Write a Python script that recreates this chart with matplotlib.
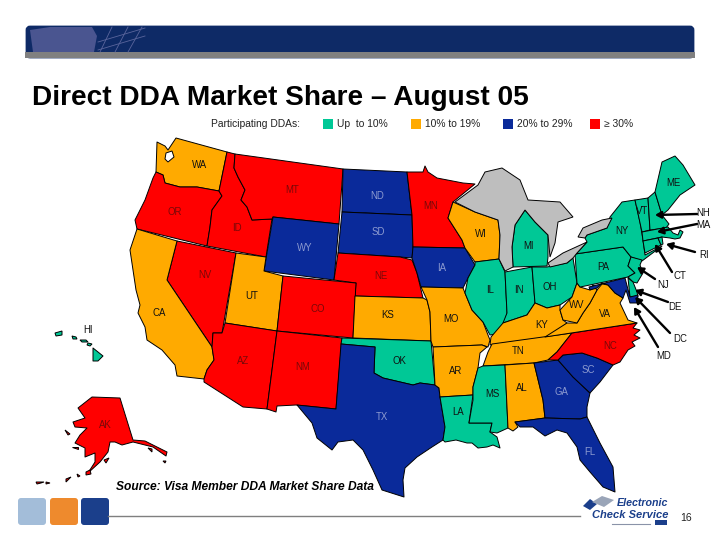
import matplotlib
matplotlib.use("Agg")
import matplotlib.pyplot as plt
from matplotlib.patches import Polygon, Rectangle, FancyBboxPatch

plt.rcParams["font.family"] = ["Liberation Sans", "DejaVu Sans"]

TEAL = "#00C896"
ORANGE = "#FFAA00"
BLUE = "#0A2A9A"
RED = "#FF0000"
GRAY = "#BEBEBE"

title = "Direct DDA Market Share \u2013 August 05"
source = "Source: Visa Member DDA Market Share Data"
legend_labels = ["Up  to 10%", "10% to 19%", "20% to 29%", "\u2265 30%"]
legend_colors = [TEAL, ORANGE, BLUE, RED]
legend_x = [323, 411, 503, 590]

up_to_10 = ["OK", "LA", "MS", "IL", "IN", "OH", "MI", "PA", "NY", "NJ", "CT", "RI", "MA", "VT", "NH", "ME", "DE", "HI"]
from_10_to_19 = ["WA", "CA", "UT", "KS", "MO", "AR", "TN", "KY", "AL", "WI", "WV", "VA"]
from_20_to_29 = ["ND", "SD", "WY", "IA", "TX", "GA", "SC", "FL", "MD"]
over_30 = ["OR", "ID", "MT", "NV", "AZ", "NM", "CO", "NE", "MN", "NC", "AK"]

# state outlines, in pixels
shapes = {
    "WA": [(157,142),(165,146),(168,150),(176,138),(227,152),(219,191),(197,187),(180,187),(165,183),(163,175),(156,172)],
    "OR": [(156,172),(163,175),(165,183),(180,187),(197,187),(219,191),(222,196),(212,210),(210,227),(207,246),(137,229),(135,220),(145,200),(153,178)],
    "ID": [(227,152),(235,154),(234,168),(238,177),(245,190),(241,200),(247,207),(252,220),(272,219),(266,257),(207,246),(210,227),(212,210),(222,196),(219,191)],
    "MT": [(235,154),(343,169),(339,224),(273,217),(272,219),(252,220),(247,207),(241,200),(245,190),(238,177),(234,168)],
    "ND": [(343,169),(407,172),(412,215),(342,212)],
    "SD": [(342,212),(412,215),(413,247),(412,258),(400,257),(338,253)],
    "WY": [(273,217),(339,224),(334,280),(264,271)],
    "NE": [(338,253),(400,257),(412,260),(417,273),(423,298),(355,296),(356,283),(334,280)],
    "NV": [(177,241),(236,253),(222,333),(213,333),(212,347),(167,280)],
    "UT": [(236,253),(266,257),(264,271),(283,276),(277,331),(225,323)],
    "CO": [(283,276),(356,283),(353,338),(277,331)],
    "CA": [(137,229),(177,241),(167,280),(212,347),(214,360),(207,370),(204,379),(177,376),(175,365),(162,350),(147,340),(145,327),(138,313),(140,305),(136,290),(133,270),(130,250)],
    "AZ": [(225,323),(277,331),(267,409),(243,407),(204,382),(204,379),(207,370),(214,360),(212,347),(213,333),(222,333)],
    "NM": [(277,331),(342,338),(336,409),(296,405),(277,406),(276,412),(267,409)],
    "KS": [(355,296),(423,298),(427,300),(430,312),(431,341),(353,338)],
    "OK": [(342,338),(431,341),(435,385),(420,383),(413,385),(383,378),(374,373),(375,347),(341,344)],
    "TX": [(341,344),(375,347),(374,373),(383,378),(413,385),(420,383),(435,385),(439,388),(440,397),(445,427),(443,440),(432,447),(417,457),(405,468),(403,480),(404,497),(382,490),(373,470),(363,450),(353,440),(338,442),(332,450),(317,438),(312,423),(297,405),(336,409)],
    "MN": [(407,172),(423,172),(425,166),(428,172),(437,178),(463,183),(475,184),(453,202),(448,218),(462,240),(465,248),(413,247),(412,215)],
    "IA": [(413,247),(465,248),(475,265),(468,278),(463,288),(421,287),(417,273),(412,258)],
    "MO": [(421,287),(463,288),(465,293),(472,310),(483,322),(488,335),(490,340),(488,347),(482,345),(433,347),(431,341),(430,312),(427,300)],
    "AR": [(433,347),(482,345),(487,347),(480,353),(478,368),(473,387),(473,395),(440,397),(439,388),(435,385)],
    "LA": [(440,397),(473,395),(469,423),(492,423),(490,432),(497,437),(500,448),(493,445),(487,447),(478,448),(472,443),(467,443),(456,440),(445,442),(443,440),(445,427)],
    "WI": [(453,202),(475,212),(498,220),(500,235),(499,259),(475,262),(465,248),(462,240),(448,218)],
    "IL": [(475,262),(499,259),(505,272),(507,313),(502,333),(490,335),(483,322),(472,310),(465,293),(468,278),(475,265)],
    "IN": [(505,272),(532,267),(535,303),(527,315),(503,323),(507,313)],
    "MI": [(513,267),(512,247),(515,225),(525,210),(535,222),(548,235),(548,257),(547,266)],
    "OH": [(532,267),(547,267),(567,263),(573,258),(577,283),(572,297),(560,305),(547,308),(535,303)],
    "KY": [(503,323),(527,315),(535,303),(547,308),(560,305),(560,310),(563,320),(567,323),(552,337),(490,345),(491,337)],
    "TN": [(492,344),(572,333),(557,352),(548,360),(534,363),(483,366),(488,352)],
    "MS": [(483,366),(505,365),(508,428),(497,433),(490,432),(492,423),(469,423),(473,400),(473,387),(478,368)],
    "AL": [(505,365),(534,363),(543,400),(545,418),(515,422),(518,427),(513,431),(508,428)],
    "GA": [(534,363),(558,360),(573,377),(590,393),(587,407),(587,417),(580,419),(545,418),(543,400)],
    "FL": [(515,422),(545,418),(580,419),(587,417),(592,427),(600,443),(613,467),(615,492),(603,487),(590,472),(580,460),(577,447),(567,433),(557,430),(545,436),(533,427),(520,427)],
    "SC": [(558,360),(563,355),(582,353),(597,358),(613,365),(600,382),(590,393),(573,377)],
    "NC": [(548,360),(557,352),(572,333),(637,323),(633,328),(640,330),(634,335),(640,338),(632,342),(635,346),(628,350),(620,362),(613,365),(597,358),(582,353),(563,355),(558,360)],
    "VA": [(602,284),(608,285),(615,293),(623,298),(620,303),(628,320),(637,323),(545,337),(567,323),(577,323),(583,313),(590,303),(597,290)],
    "WV": [(577,283),(580,287),(590,290),(593,285),(597,290),(590,303),(583,313),(577,323),(563,320),(560,310),(572,297)],
    "PA": [(575,254),(623,247),(631,257),(628,266),(635,273),(628,277),(585,286),(580,287),(577,283)],
    "NY": [(587,242),(577,253),(575,254),(623,247),(631,257),(642,261),(662,246),(645,255),(643,240),(640,222),(635,200),(622,202),(610,217),(607,228),(587,235),(585,238)],
    "NJ": [(631,257),(642,260),(640,265),(643,273),(637,283),(633,282),(628,277),(635,273),(628,266)],
    "DE": [(628,278),(633,282),(637,292),(638,297),(630,297)],
    "MD": [(589,287),(625,278),(630,297),(638,295),(637,303),(630,303),(626,290),(623,298),(615,293),(608,285),(602,283),(597,288),(590,290)],
    "VT": [(635,200),(648,198),(650,230),(642,232)],
    "NH": [(648,198),(655,192),(662,215),(669,224),(666,228),(650,230)],
    "ME": [(655,192),(662,162),(675,156),(683,165),(695,185),(680,195),(668,210),(662,215)],
    "MA": [(642,232),(668,227),(673,233),(678,235),(680,230),(683,232),(680,238),(675,239),(670,238),(662,237),(643,241)],
    "CT": [(643,241),(658,238),(661,245),(645,253)],
    "RI": [(658,238),(662,237),(663,244),(661,245)],
    "AK": [(78,408),(92,397),(120,398),(133,440),(145,441),(167,452),(166,456),(153,447),(145,445),(133,442),(122,445),(115,442),(110,442),(108,452),(100,462),(88,473),(95,462),(95,453),(85,457),(85,448),(75,443),(80,435),(87,428),(75,427),(73,422),(85,418)],
    "HI": [(93,348),(103,356),(98,361),(93,361)],
}

# small bits drawn after the states: lakes and upper Michigan, islands
lakes = [
    [(455,202),(478,185),(485,172),(502,168),(520,180),(528,200),(560,202),(573,217),(558,222),(555,243),(550,257),(548,235),(535,222),(525,210),(515,225),(512,247),(513,267),(505,271),(499,259),(500,235),(498,220),(475,212)],
    [(548,263),(563,253),(587,242),(577,253),(573,258),(567,263),(550,267)],
    [(578,237),(583,228),(602,220),(612,218),(607,228),(587,235),(585,238)],
]
sound = [(166,153),(172,151),(174,157),(168,162),(165,159)]
islands_hi = [
    [(55,333),(62,331),(62,335),(56,336)],
    [(72,336),(76,337),(77,339),(73,339)],
    [(80,340),(86,340),(88,342),(82,342)],
    [(88,343),(92,344),(90,346),(87,345)],
]
islands_ak = [
    [(65,430),(70,434),(68,435)],
    [(72,447),(78,447),(78,449)],
    [(104,460),(109,458),(106,463)],
    [(148,448),(152,449),(152,452)],
    [(163,461),(166,461),(165,463)],
    [(86,472),(90,470),(91,474),(86,475)],
    [(77,474),(80,476),(78,477)],
    [(66,479),(71,477),(66,482)],
    [(36,482),(44,482),(41,483),(37,484)],
    [(46,482),(50,483),(46,484)],
]

label_names = ["WA","MT","ND","OR","ID","MN","SD","WY","WI","MI","NY","VT","ME","NV","NE","IA","IL","IN","OH","PA","UT","CO","KS","MO","KY","WV","VA","CA","AZ","NM","OK","AR","TN","NC","SC","MS","AL","GA","LA","TX","FL","AK","HI"]
label_x = [200,292,377,175,237,431,378,305,481,528,622,642,673,205,381,442,490,519,550,603,252,318,388,451,542,577,605,159,243,303,399,456,518,610,588,492,522,561,458,382,590,105,88]
label_y = [165,190,196,212,228,206,232,248,234,246,231,211,183,275,276,268,290,290,287,267,296,309,315,319,325,305,314,313,361,367,361,371,351,346,370,394,388,392,412,417,452,425,330]

# small states get an arrow from a label beside the map
arrow_names = ["NH","MA","RI","CT","NJ","DE","DC","MD"]
arrow_text_x = [703,703,704,680,663,675,680,664]
arrow_text_y = [213,225,255,276,285,307,339,356]
arrow_from = [(697,214),(697,224),(695,252),(672,272),(655,279),(668,302),(670,333),(658,347)]
arrow_to = [(655,215),(657,232),(666,244),(655,244),(637,267),(635,290),(635,297),(634,307)]

color_of = {}
for names, color in [(up_to_10, TEAL), (from_10_to_19, ORANGE), (from_20_to_29, BLUE), (over_30, RED)]:
    for name in names:
        color_of[name] = color

fig = plt.figure(figsize=(7.2, 5.4), dpi=100)
ax = fig.add_axes([0, 0, 1, 1])
ax.set_xlim(0, 720)
ax.set_ylim(540, 0)
ax.axis("off")

# header band with the faint globe at the left
ax.add_patch(FancyBboxPatch((27, 27), 666, 30, boxstyle="round,pad=0,rounding_size=3", fc="#0E2A66", ec="#0E2A66", lw=2))
ax.add_patch(Polygon([(30,30),(50,27),(92,27),(97,36),(94,52),(33,52)], fc="#4A5590", ec="none"))
for x0, x1 in [(100, 112), (115, 128), (128, 142)]:
    ax.plot([x0, x1], [52, 27], color="#5A659C", lw=0.6)
for y0, y1 in [(50, 36), (42, 28)]:
    ax.plot([98, 145], [y0, y1], color="#5A659C", lw=0.6)
ax.add_patch(Rectangle((25, 52), 670, 6, fc="#808080", ec="none"))

ax.text(31.5, 105, title, fontsize=20.15, fontweight="bold", color="black", ha="left", va="baseline")

# legend row
ax.text(211, 124, "Participating DDAs:", fontsize=7.4, ha="left", va="center", color="#222222")
for x, label, color in zip(legend_x, legend_labels, legend_colors):
    ax.add_patch(Rectangle((x, 119), 10, 10, fc=color, ec="none"))
    ax.text(x + 14, 124, label, fontsize=7.4, ha="left", va="center", color="#222222")

# map
for name, points in shapes.items():
    ax.add_patch(Polygon(points, closed=True, fc=color_of[name], ec="black", lw=0.7, joinstyle="round"))
ax.add_patch(Polygon(sound, closed=True, fc="white", ec="black", lw=0.7))
for points in lakes:
    ax.add_patch(Polygon(points, closed=True, fc=GRAY, ec="black", lw=0.7))
for points in islands_hi:
    ax.add_patch(Polygon(points, closed=True, fc=TEAL, ec="black", lw=0.7))
for points in islands_ak:
    ax.add_patch(Polygon(points, closed=True, fc=RED, ec="black", lw=0.7))

for name, x, y in zip(label_names, label_x, label_y):
    fill = color_of.get(name)
    if fill == BLUE:
        tc = "#8C9AD0"
    elif fill == RED:
        tc = "#7A0808"
    else:
        tc = "#111111"
    ax.text(x, y, name, fontsize=6.9, ha="center", va="center", color=tc)

for name, x, y, start, end in zip(arrow_names, arrow_text_x, arrow_text_y, arrow_from, arrow_to):
    ax.text(x, y, name, fontsize=6.9, ha="center", va="center", color="#111111")
    ax.annotate("", xy=end, xytext=start, arrowprops=dict(arrowstyle="-|>,head_width=0.2,head_length=0.35", color="black", lw=1.7, shrinkA=0, shrinkB=0))

ax.text(116, 487, source, fontsize=8.65, fontweight="bold", style="italic", ha="left", va="center", color="black")

# footer
for x, color in [(18, "#A3BDD9"), (50, "#EE8A2D"), (81, "#1B3F8B")]:
    ax.add_patch(FancyBboxPatch((x + 2, 500), 24, 23, boxstyle="round,pad=2,rounding_size=3", fc=color, ec="none"))
ax.plot([108, 580], [516, 516], color="#7F7F7F", lw=1)

ax.add_patch(Polygon([(583,506),(590,499),(597,504),(590,510)], fc="#1B3F8B", ec="none"))
ax.add_patch(Polygon([(592,502),(602,496),(614,500),(604,507)], fc="#9AA5B8", ec="none"))
ax.text(668, 503, "Electronic", fontsize=7.7, fontweight="bold", style="italic", color="#1B3F8B", ha="right", va="center")
ax.text(668, 514.5, "Check Service", fontsize=8, fontweight="bold", style="italic", color="#1B3F8B", ha="right", va="center")
ax.plot([612, 650], [524, 524], color="#8A93A8", lw=0.8)
ax.add_patch(Rectangle((655, 520), 12, 5, fc="#1B3F8B", ec="none"))
ax.text(686, 518, "16", fontsize=7.5, ha="center", va="center", color="#222222")

fig.savefig("out.png", dpi=100)
plt.close(fig)
